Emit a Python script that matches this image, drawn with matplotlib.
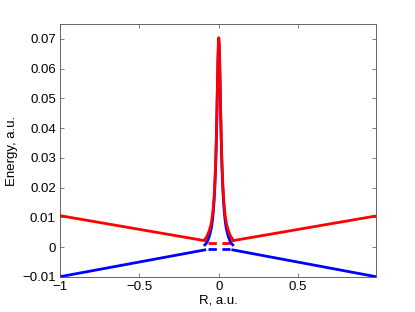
import matplotlib
matplotlib.use('Agg')
import matplotlib.pyplot as plt

plt.rcParams['font.family'] = ['Liberation Sans', 'DejaVu Sans']

# ramas lineales fuera del pico (x, energia)
x_izq = [-1.0, -0.088]
x_der = [0.088, 0.99]
rojo_izq = [0.0106, 0.0022]
rojo_der = [0.0022, 0.0105]
azul_izq = [-0.0099, -0.0009]
azul_der = [-0.0009, -0.0099]

# pico central
x_pico = [-0.088, -0.08, -0.07, -0.06, -0.05, -0.045, -0.04, -0.035, -0.03, -0.025,
          -0.02, -0.0175, -0.015, -0.0125, -0.01, -0.0075, -0.005, -0.0025, 0.0,
          0.0025, 0.005, 0.0075, 0.01, 0.0125, 0.015, 0.0175, 0.02, 0.025,
          0.03, 0.035, 0.04, 0.045, 0.05, 0.06, 0.07, 0.08, 0.088]
rojo_pico = [0.0026, 0.0032, 0.0042, 0.0056, 0.0075, 0.0089, 0.0108, 0.0133, 0.0167, 0.0215,
             0.0283, 0.0328, 0.0381, 0.0443, 0.0510, 0.0580, 0.0643, 0.0688, 0.0704,
             0.0688, 0.0643, 0.0580, 0.0510, 0.0443, 0.0381, 0.0328, 0.0283, 0.0215,
             0.0167, 0.0133, 0.0108, 0.0089, 0.0075, 0.0056, 0.0042, 0.0032, 0.0026]
azul_pico = [0.0008, 0.0012, 0.0022, 0.0036, 0.0056, 0.0070, 0.0090, 0.0116, 0.0152, 0.0200,
             0.0268, 0.0313, 0.0366, 0.0428, 0.0495, 0.0565, 0.0628, 0.0673, 0.0689,
             0.0673, 0.0628, 0.0565, 0.0495, 0.0428, 0.0366, 0.0313, 0.0268, 0.0200,
             0.0152, 0.0116, 0.0090, 0.0070, 0.0056, 0.0036, 0.0022, 0.0012, 0.0008]

# tramos discontinuos sin el pico
x_disc = [-0.07, 0.07]
rojo_disc = [0.0014, 0.0014]
azul_disc = [-0.00075, -0.00075]

xticks = [-1, -0.5, 0, 0.5]
xtick_lab = ['\u22121', '\u22120.5', '0', '0.5']
yticks = [-0.01, 0, 0.01, 0.02, 0.03, 0.04, 0.05, 0.06, 0.07]
ytick_lab = ['\u22120.01', '0', '0.01', '0.02', '0.03', '0.04', '0.05', '0.06', '0.07']

fig = plt.figure(figsize=(4.15, 3.12), dpi=100)
ax = fig.add_axes([0.1446, 0.1122, 0.7614, 0.811])

lw = 2.0
ax.plot(x_disc, azul_disc, '--', color='blue', lw=lw, dashes=(3, 2))
ax.plot(x_disc, rojo_disc, '--', color='red', lw=lw, dashes=(3, 2))
ax.plot(x_izq, azul_izq, color='blue', lw=lw)
ax.plot(x_der, azul_der, color='blue', lw=lw)
ax.plot(x_pico, azul_pico, color='blue', lw=lw)
ax.plot(x_izq, rojo_izq, color='red', lw=lw)
ax.plot(x_der, rojo_der, color='red', lw=lw)
ax.plot(x_pico, rojo_pico, color='red', lw=lw)

ax.set_xlim(-1, 0.99)
ax.set_ylim(-0.01, 0.075)
ax.set_xticks(xticks)
ax.set_xticklabels(xtick_lab)
ax.set_yticks(yticks)
ax.set_yticklabels(ytick_lab)
ax.tick_params(direction='in', length=3, width=0.5, top=True, right=True,
               labelsize=9.5, colors='0.3', labelcolor='black', pad=3)
for s in ax.spines.values():
    s.set_color('0.3')
    s.set_linewidth(0.6)

ax.set_xlabel('R, a.u.', fontsize=9.5, labelpad=1)
ax.set_ylabel('Energy, a.u.', fontsize=9.5, labelpad=3)

fig.savefig('out.png', dpi=100)
